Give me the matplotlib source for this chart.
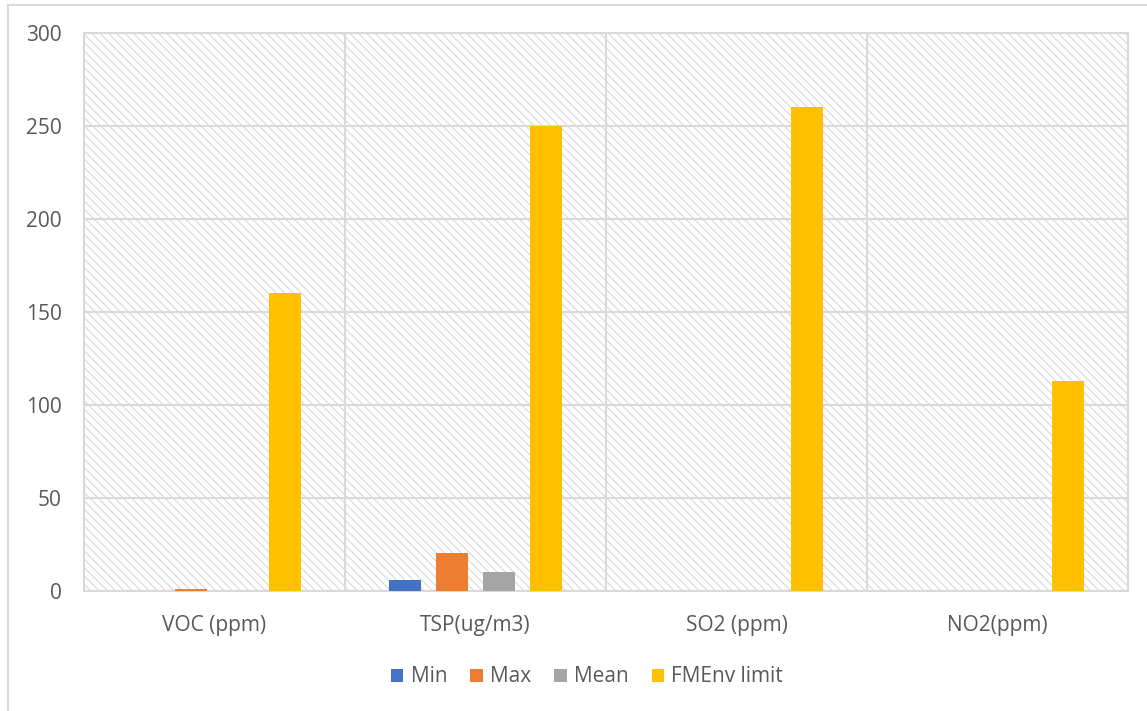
import matplotlib.pyplot as plt
from matplotlib.patches import Rectangle
import numpy as np

categorias = ["VOC (ppm)", "TSP(ug/m3)", "SO2 (ppm)", "NO2(ppm)"]
series = ["Min", "Max", "Mean", "FMEnv limit"]
valores_min = [0.05, 6.0, 0.02, 0.02]
valores_max = [1.0, 20.5, 0.05, 0.05]
valores_mean = [0.2, 10.2, 0.03, 0.03]
valores_limite = [160, 250, 260, 113]
colores = ["#4472C4", "#ED7D31", "#A5A5A5", "#FFC000"]

texto = "#595959"
gris = "#d9d9d9"

plt.rcParams["font.family"] = ["Open Sans", "DejaVu Sans"]
plt.rcParams["hatch.linewidth"] = 0.8

fig = plt.figure(figsize=(11.47, 7.11), dpi=100)
ax = fig.add_axes([84 / 1147, 120 / 711, 1044 / 1147, 558 / 711])

# marco exterior del gráfico
fig.patches.append(Rectangle((8 / 1147, -0.1), 1.2, 1.1 - 5 / 711,
                             transform=fig.transFigure, fill=False,
                             edgecolor=gris, linewidth=1.5))

# fondo rayado del área de trazado
ax.add_patch(Rectangle((0, 0), 1, 1, transform=ax.transAxes, facecolor="white",
                       edgecolor=gris, linewidth=0, hatch="\\\\\\\\", zorder=0))

x = np.arange(len(categorias))
paso = 0.18
ancho = 0.1226
datos = [valores_min, valores_max, valores_mean, valores_limite]
for i, (nombre, vals) in enumerate(zip(series, datos)):
    ax.bar(x + (i - 1.5) * paso, vals, width=ancho, color=colores[i],
           label=nombre, zorder=3)

ax.set_xlim(-0.5, len(categorias) - 0.5)
ax.set_ylim(0, 300)
ax.set_yticks(np.arange(0, 301, 50))
ax.set_xticks(x)
ax.set_xticklabels(categorias)
ax.set_xticks(np.arange(-0.5, len(categorias), 1), minor=True)

ax.grid(True, axis="y", which="major", color=gris, linewidth=1.5, zorder=1)
ax.grid(True, axis="x", which="minor", color=gris, linewidth=1.5, zorder=1)
ax.grid(False, axis="x", which="major")
ax.tick_params(axis="both", which="both", length=0, labelsize=15, labelcolor=texto)
ax.tick_params(axis="y", pad=16)
ax.tick_params(axis="x", pad=17)
for s in ax.spines.values():
    s.set_color(gris)
    s.set_linewidth(1.5)

ax.legend(loc="center", bbox_to_anchor=(587 / 1147, 34 / 711),
          bbox_transform=fig.transFigure, ncol=4, frameon=False,
          fontsize=15, labelcolor=texto, handlelength=0.6, handleheight=0.6,
          handletextpad=0.35, columnspacing=1.1)

fig.savefig("out.png", dpi=100)
